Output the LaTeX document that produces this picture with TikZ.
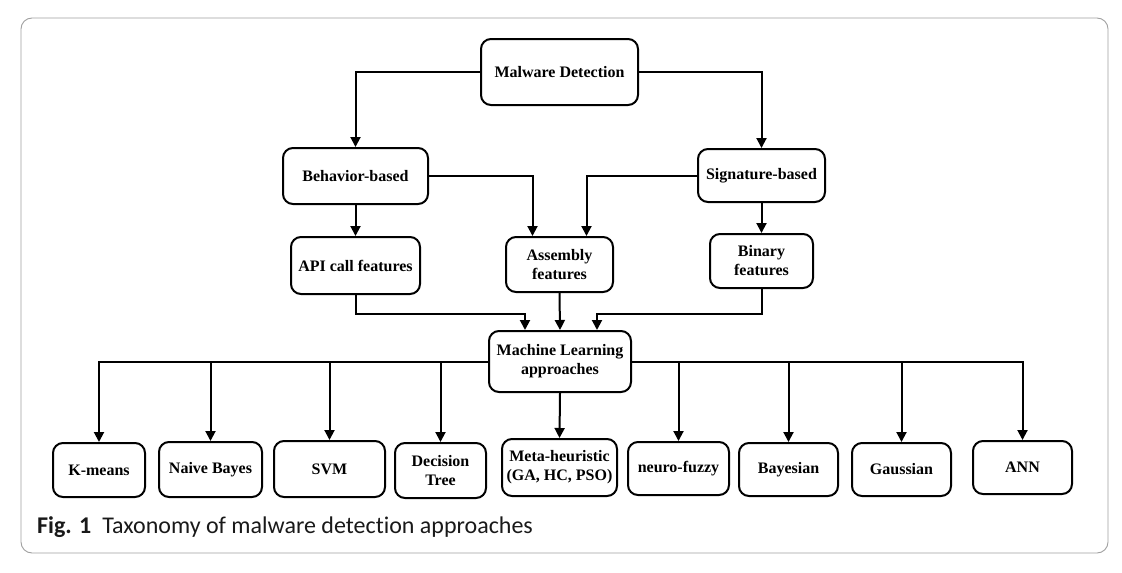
\documentclass[tikz,border=0pt]{standalone}
\usepackage{fontspec}
\setmainfont{Liberation Serif}
\newfontfamily\capfont[Ligatures=NoCommon]{Carlito}
\usetikzlibrary{arrows.meta}
\begin{document}
\begin{tikzpicture}[x=1pt,y=-1pt,
  box/.style={draw,line width=2pt,rounded corners=10pt,align=center,inner sep=0pt,
    font=\fontsize{16}{19}\selectfont\bfseries},
  arr/.style={line width=2pt,-{Triangle[length=10pt,width=10pt]}},
  ln/.style={line width=2pt}]
\useasboundingbox (0,0) rectangle (1122,573);
\draw[gray!75,line width=0.9pt,rounded corners=11pt] (21,18) rectangle (1108,553);
% nodes
\node[box,minimum width=157pt,minimum height=66pt] (md) at (559.5,72) {Malware Detection};
\node[box,minimum width=145pt,minimum height=56pt] (bb) at (355.5,176) {Behavior-based};
\node[box,minimum width=127pt,minimum height=53pt] (sb) at (761.5,175.5) {Signature-based};
\node[box,minimum width=129pt,minimum height=57pt] (api) at (355.5,265.5) {API call features};
\node[box,minimum width=107pt,minimum height=55pt] (asm) at (559.5,264.5) {Assembly\\features};
\node[box,minimum width=103pt,minimum height=54pt] (bin) at (761.5,261) {Binary\\features};
\node[box,minimum width=142pt,minimum height=61pt] (ml) at (560,361.5) {Machine Learning\\approaches};
\node[box,minimum width=92pt,minimum height=54pt] (km) at (99,470) {K-means};
\node[box,minimum width=103pt,minimum height=55pt] (nb) at (210.5,469.5) {Naive Bayes};
\node[box,minimum width=111pt,minimum height=56pt] (svm) at (329.5,469) {SVM};
\node[box,minimum width=91pt,minimum height=55pt] (dt) at (440.5,470.5) {Decision\\Tree};
\node[box,minimum width=115pt,minimum height=57pt] (mh) at (559.5,467.5) {Meta-heuristic\\(GA, HC, PSO)};
\node[box,minimum width=101pt,minimum height=53pt] (nf) at (678.5,468.5) {neuro-fuzzy};
\node[box,minimum width=99pt,minimum height=53pt] (bay) at (788.5,469.5) {Bayesian};
\node[box,minimum width=99pt,minimum height=53pt] (gau) at (901.5,469.5) {Gaussian};
\node[box,minimum width=99pt,minimum height=53pt] (ann) at (1022.5,467.5) {ANN};
% connectors top
\draw[arr] (md.west) -| (bb.north);
\draw[arr] (md.east) -| (sb.north);
\draw[arr] (bb.east) -| ([xshift=-27pt]asm.north);
\draw[arr] (sb.west) -| ([xshift=27pt]asm.north);
\draw[arr] (bb.south) -- (api.north);
\draw[arr] (sb.south) -- (bin.north);
\coordinate (ja) at ([yshift=-19pt]api.south);
\coordinate (jb) at ([yshift=-25pt]bin.south);
\draw[arr] (api.south) -- (ja) -| ([xshift=-35pt]ml.north);
\draw[arr] (asm.south) -- (ml.north);
\draw[arr] (bin.south) -- (jb) -| ([xshift=37pt]ml.north);
% ML to leaves
\draw[arr] (ml.west) -| (km.north);
\draw[arr] (ml.east) -| (ann.north);
\foreach \n in {nb,svm,dt}{\draw[arr] (ml.west -| \n.north) -- (\n.north);}
\foreach \n in {nf,bay,gau}{\draw[arr] (ml.east -| \n.north) -- (\n.north);}
\draw[arr] (ml.south) -- (mh.north);
% caption
\node[anchor=base west,inner sep=0pt,text=black!90,font=\capfont\fontsize{24}{28}\selectfont] (cap) at (37,533)
  {\textbf{Fig. 1}\hspace{11pt}Taxonomy of malware detection approaches};
\end{tikzpicture}
\end{document}
